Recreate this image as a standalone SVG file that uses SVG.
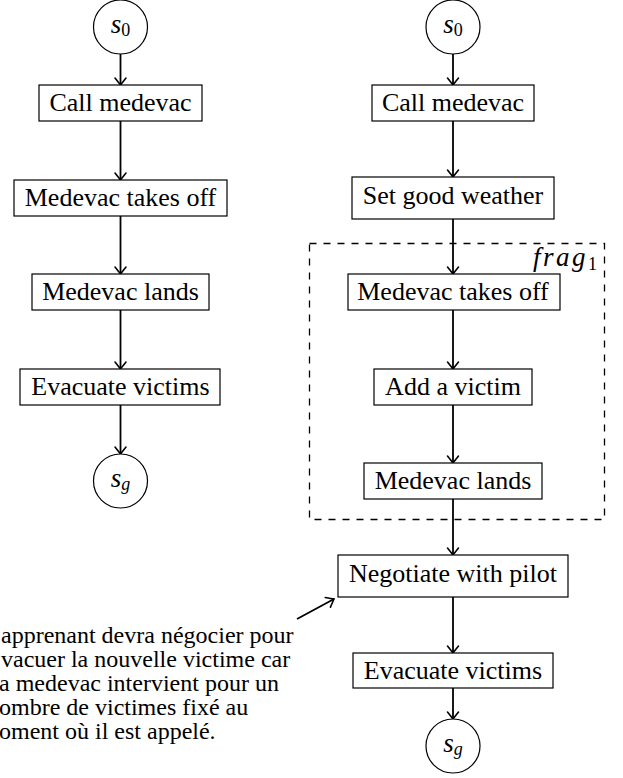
<svg xmlns="http://www.w3.org/2000/svg" width="623" height="778" viewBox="0 0 623 778">
<style>
.box{fill:#fff;stroke:#000;stroke-width:1.2}
.st{fill:#fff;stroke:#000;stroke-width:1.2}
.lbl{font-family:"Liberation Serif","Times New Roman",serif;font-size:26px;fill:#000;text-anchor:middle}
.math{font-family:"Liberation Serif","Times New Roman",serif;font-size:27px;font-style:italic;fill:#000;text-anchor:middle}
.sub{font-style:normal;font-size:18px}
.subi{font-style:italic;font-size:18px}
.edge{stroke:#000;stroke-width:1.8;fill:none;marker-end:url(#arr)}
.note{font-family:"Liberation Serif","Times New Roman",serif;font-size:24px;fill:#000}
</style>
<defs>
<marker id="arr" markerUnits="userSpaceOnUse" markerWidth="14" markerHeight="14" viewBox="-8 -7 10 14" refX="0" refY="0" orient="auto" overflow="visible">
<path d="M -7 -5.5 Q -2 -1.5 0 0 Q -2 1.5 -7 5.5" fill="none" stroke="#000" stroke-width="1.6" stroke-linecap="round"/>
</marker>
</defs>

<g id="frag1">
<rect x="309.5" y="243.5" width="295" height="276" fill="none" stroke="#000" stroke-width="1.3" stroke-dasharray="7 7"/>
<text x="533" y="266" font-family="'Liberation Serif','Times New Roman',serif" font-size="27" font-style="italic" letter-spacing="2.5">frag<tspan font-size="18" font-style="normal" letter-spacing="0" dy="4">1</tspan></text>
</g>

<g id="connectors">
<line class="edge" x1="120.5" y1="54" x2="120.5" y2="85"/>
<line class="edge" x1="120.5" y1="121" x2="120.5" y2="180"/>
<line class="edge" x1="120.5" y1="216" x2="120.5" y2="274"/>
<line class="edge" x1="120.5" y1="310" x2="120.5" y2="369"/>
<line class="edge" x1="120.5" y1="405" x2="120.5" y2="454"/>
<line class="edge" x1="453" y1="54" x2="453" y2="85"/>
<line class="edge" x1="453" y1="121" x2="453" y2="177"/>
<line class="edge" x1="453" y1="219" x2="453" y2="274"/>
<line class="edge" x1="453" y1="310" x2="453" y2="369"/>
<line class="edge" x1="453" y1="405" x2="453" y2="463"/>
<line class="edge" x1="453" y1="499" x2="453" y2="555"/>
<line class="edge" x1="453" y1="597" x2="453" y2="653"/>
<line class="edge" x1="453" y1="688" x2="453" y2="719"/>
<line class="edge" x1="297" y1="619" x2="334" y2="599"/>
</g>

<g id="L_s0"><circle class="st" cx="120.5" cy="27" r="27"/><text class="math" x="120.5" y="33">s<tspan class="sub" dy="3">0</tspan></text></g>
<g id="L_call"><rect class="box" x="39" y="85" width="163" height="36"/><text class="lbl" x="120.5" y="111">Call medevac</text></g>
<g id="L_takeoff"><rect class="box" x="14" y="180" width="213" height="36"/><text class="lbl" x="120.5" y="206">Medevac takes off</text></g>
<g id="L_lands"><rect class="box" x="32" y="274" width="177" height="36"/><text class="lbl" x="120.5" y="300">Medevac lands</text></g>
<g id="L_evac"><rect class="box" x="20" y="369" width="200" height="36"/><text class="lbl" x="120.5" y="395">Evacuate victims</text></g>
<g id="L_sg"><circle class="st" cx="120.5" cy="481" r="27"/><text class="math" x="120.5" y="487">s<tspan class="subi" dy="3">g</tspan></text></g>

<g id="R_s0"><circle class="st" cx="453" cy="27" r="27"/><text class="math" x="453" y="33">s<tspan class="sub" dy="3">0</tspan></text></g>
<g id="R_call"><rect class="box" x="372" y="85" width="162" height="36"/><text class="lbl" x="453" y="111">Call medevac</text></g>
<g id="R_weather"><rect class="box" x="352" y="177" width="202" height="42"/><text class="lbl" x="453" y="204">Set good weather</text></g>
<g id="R_takeoff"><rect class="box" x="348" y="274" width="212" height="36"/><text class="lbl" x="453" y="300">Medevac takes off</text></g>
<g id="R_victim"><rect class="box" x="374" y="369" width="158" height="36"/><text class="lbl" x="453" y="395">Add a victim</text></g>
<g id="R_lands"><rect class="box" x="364" y="463" width="178" height="36"/><text class="lbl" x="453" y="489">Medevac lands</text></g>
<g id="R_negotiate"><rect class="box" x="338" y="555" width="230" height="42"/><text class="lbl" x="453" y="582">Negotiate with pilot</text></g>
<g id="R_evac"><rect class="box" x="353" y="653" width="200" height="35"/><text class="lbl" x="453" y="679">Evacuate victims</text></g>
<g id="R_sg"><circle class="st" cx="453" cy="746" r="27"/><text class="math" x="453" y="752">s<tspan class="subi" dy="3">g</tspan></text></g>

<g id="note">
<text class="note" x="1" y="643">apprenant devra négocier pour</text>
<text class="note" x="1" y="667">vacuer la nouvelle victime car</text>
<text class="note" x="-1" y="691">a medevac intervient pour un</text>
<text class="note" x="-1" y="715">ombre de victimes fixé au</text>
<text class="note" x="-1" y="739">oment où il est appelé.</text>
</g>
</svg>
